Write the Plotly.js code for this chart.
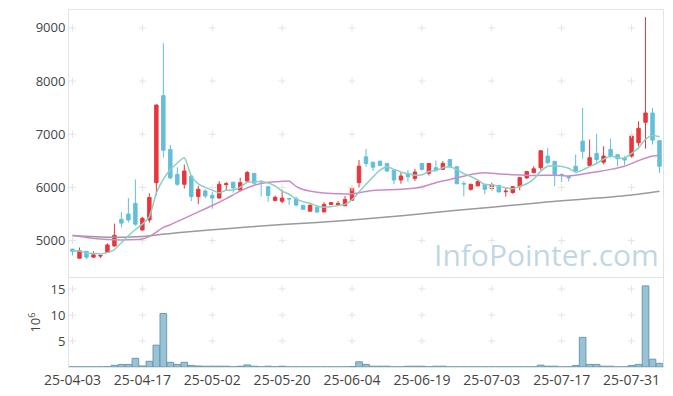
<!DOCTYPE html>
<html>
<head>
<meta charset="utf-8">
<script src="https://cdn.plot.ly/plotly-3.0.1.min.js"></script>
<style>html,body{margin:0;padding:0;background:#fff;}#chart{width:673px;height:396px;}</style>
</head>
<body>
<div id="chart"></div>
<script>
// ---- data ----
const dates = [
 '25-04-03','25-04-04','25-04-07','25-04-08','25-04-09','25-04-10','25-04-11','25-04-14','25-04-15','25-04-16',
 '25-04-17','25-04-18','25-04-21','25-04-22','25-04-23','25-04-24','25-04-25','25-04-28','25-04-29','25-04-30',
 '25-05-02','25-05-07','25-05-08','25-05-09','25-05-12','25-05-13','25-05-14','25-05-15','25-05-16','25-05-19',
 '25-05-20','25-05-21','25-05-22','25-05-23','25-05-26','25-05-27','25-05-28','25-05-29','25-05-30','25-06-02',
 '25-06-04','25-06-05','25-06-09','25-06-10','25-06-11','25-06-12','25-06-13','25-06-16','25-06-17','25-06-18',
 '25-06-19','25-06-20','25-06-23','25-06-24','25-06-25','25-06-26','25-06-27','25-06-30','25-07-01','25-07-02',
 '25-07-03','25-07-04','25-07-07','25-07-08','25-07-09','25-07-10','25-07-11','25-07-14','25-07-15','25-07-16',
 '25-07-17','25-07-18','25-07-21','25-07-22','25-07-23','25-07-24','25-07-25','25-07-28','25-07-29','25-07-30',
 '25-07-31','25-08-01','25-08-04','25-08-05','25-08-06'];

const open = [4840,4670,4800,4690,4710,4780,4900,5400,5500,5700,
 5200,5390,6090,7725,6715,6245,6060,6215,5830,5935,
 5850,5800,6055,6100,5950,6120,6265,6120,6015,5755,
 5740,5795,5790,5665,5555,5630,5540,5680,5670,5655,
 5760,6090,6575,6475,6495,6450,6325,6140,6260,6170,
 6450,6265,6370,6340,6525,6390,6075,5965,6030,6060,
 5980,6040,5920,5905,6015,6180,6280,6370,6590,6490,
 6245,6205,6400,6870,6415,6640,6475,6715,6615,6550,
 6590,6840,7225,7400,6880];
const high = [4850,4870,4800,4800,4740,4950,5320,5540,5800,6150,
 5450,5890,7560,8710,6800,6380,6430,6220,6030,5965,
 5920,6120,6100,6100,6185,6310,6270,6125,6020,5850,
 5965,5800,5830,5670,5680,5640,5725,5720,5745,5840,
 5980,6515,6725,6480,6500,6460,6330,6280,6325,6350,
 6460,6455,6510,6495,6530,6395,6120,6065,6150,6065,
 6090,6045,5995,6020,6200,6310,6400,6700,6745,6500,
 6265,6215,6620,7495,6900,7010,6775,6915,6620,6590,
 6980,7245,9200,7495,6885];
const low = [4720,4660,4650,4680,4670,4770,4890,5250,5340,5280,
 5190,5340,5850,6560,6150,6030,5980,5745,5685,5800,
 5600,5800,5935,5900,5940,6090,6050,5830,5730,5740,
 5700,5670,5640,5580,5550,5515,5535,5675,5650,5650,
 5750,6000,6390,6310,6400,6290,6060,6070,6110,6120,
 6320,6225,6300,6330,6360,6060,5830,5940,6020,5870,
 5935,5910,5830,5880,5945,6160,6265,6330,6440,6025,
 6100,6115,6290,6540,6400,6435,6435,6560,6400,6420,
 6560,6775,6730,6805,6275];
const close = [4800,4810,4690,4735,4720,4920,5100,5330,5390,5310,
 5420,5810,7550,6700,6180,6060,6310,5830,5965,5840,
 5800,6060,6070,5990,6090,6280,6080,6110,5850,5815,
 5800,5785,5670,5590,5665,5540,5680,5715,5700,5775,
 5975,6400,6450,6380,6415,6310,6140,6215,6200,6290,
 6340,6450,6320,6450,6390,6070,6065,6060,6110,5965,
 6050,5915,5930,6015,6185,6300,6350,6690,6465,6245,
 6225,6180,6310,6680,6560,6525,6590,6590,6540,6515,
 6965,7110,7400,6890,6400];

// volume in millions of shares
const volumeM = [0.03,0.03,0.03,0.03,0.03,0.05,0.32,0.5,0.5,1.67,
 0.2,1.1,4.2,10.3,0.9,0.5,0.9,0.3,0.2,0.15,
 0.15,0.15,0.15,0.04,0.15,0.4,0.15,0.04,0.15,0.04,
 0.15,0.03,0.03,0.03,0.03,0.03,0.03,0.03,0.03,0.03,
 0.1,1.0,0.5,0.15,0.15,0.15,0.04,0.04,0.15,0.15,
 0.15,0.04,0.15,0.15,0.03,0.03,0.03,0.03,0.03,0.03,
 0.03,0.03,0.03,0.03,0.03,0.03,0.03,0.35,0.15,0.15,
 0.03,0.03,0.3,5.7,0.5,0.5,0.15,0.15,0.03,0.03,
 0.3,0.5,15.6,1.5,0.7];

// 20-day moving average
const ma20Dates = ['25-04-03','25-04-07','25-04-09','25-04-11','25-04-15','25-04-17','25-04-18','25-04-21','25-04-22','25-04-23',
 '25-04-25','25-04-29','25-05-02','25-05-08','25-05-12','25-05-14','25-05-16','25-05-20','25-05-21','25-05-22',
 '25-05-23','25-05-27','25-05-29','25-06-04','25-06-09','25-06-11','25-06-16','25-06-19','25-06-23','25-06-25',
 '25-06-30','25-07-02','25-07-04','25-07-08','25-07-11','25-07-16','25-07-18','25-07-22','25-07-24','25-07-28',
 '25-07-30','25-08-01','25-08-05','25-08-06'];
const ma20 = [5100,5060,5030,5015,5015,5030,5080,5160,5250,5300,
 5420,5540,5660,5790,5930,6040,6100,6115,6120,6020,
 5960,5910,5885,5880,5925,5950,5965,6010,6090,6150,
 6245,6275,6255,6240,6225,6230,6215,6250,6295,6340,
 6400,6505,6590,6600];

// long moving average
const maLongDates = ['25-04-03','25-04-10','25-04-17','25-04-24','25-05-02','25-05-13','25-05-20','25-05-27','25-06-04','25-06-12',
 '25-06-19','25-06-26','25-07-03','25-07-10','25-07-17','25-07-24','25-07-31','25-08-06'];
const maLong = [5090,5065,5078,5150,5205,5255,5305,5340,5390,5445,
 5505,5570,5630,5690,5750,5800,5860,5930];

const priceTicks = [5000,6000,7000,8000,9000];
const volumeTicks = [5,10,15];
const dateTicks = ['25-04-03','25-04-17','25-05-02','25-05-20','25-06-04','25-06-19','25-07-03','25-07-17','25-07-31'];

// ---- derived ----
function movingAverage(arr, n) {
  return arr.map((v, i) => {
    const s = arr.slice(Math.max(0, i - n + 1), i + 1);
    return s.reduce((a, b) => a + b, 0) / s.length;
  });
}
const ma5 = movingAverage(close, 5);

function crossGrid(xs, ys) {
  const gx = [], gy = [];
  xs.forEach(x => ys.forEach(y => { gx.push(x); gy.push(y); }));
  return {gx, gy};
}
const gPrice = crossGrid(dateTicks, priceTicks);
const gVol = crossGrid(dateTicks, volumeTicks);

const UP = '#e8363c', DOWN = '#62bfd8';
const GRIDMARK = {symbol:'cross-thin', size:5, line:{color:'#e4e4e4', width:1}};

const traces = [
  {type:'scatter', mode:'markers', x:gPrice.gx, y:gPrice.gy, xaxis:'x', yaxis:'y',
   marker:GRIDMARK, hoverinfo:'skip', showlegend:false},
  {type:'candlestick', x:dates, open:open, high:high, low:low, close:close,
   xaxis:'x', yaxis:'y',
   increasing:{line:{color:UP, width:1}, fillcolor:UP},
   decreasing:{line:{color:DOWN, width:1}, fillcolor:DOWN},
   whiskerwidth:0, showlegend:false, hoverinfo:'skip'},
  {type:'scatter', mode:'lines', x:maLongDates, y:maLong, xaxis:'x', yaxis:'y',
   line:{color:'#9a9a9a', width:1.5, shape:'spline', smoothing:0.6}, hoverinfo:'skip', showlegend:false},
  {type:'scatter', mode:'lines', x:ma20Dates, y:ma20, xaxis:'x', yaxis:'y',
   line:{color:'#c98bc6', width:1.5, shape:'spline', smoothing:0.6}, hoverinfo:'skip', showlegend:false},
  {type:'scatter', mode:'lines', x:dates, y:ma5, xaxis:'x', yaxis:'y',
   line:{color:'#8ccfc4', width:1.5, shape:'spline', smoothing:0.6}, hoverinfo:'skip', showlegend:false},
  {type:'scatter', mode:'markers', x:gVol.gx, y:gVol.gy, xaxis:'x2', yaxis:'y2',
   marker:GRIDMARK, hoverinfo:'skip', showlegend:false},
  {type:'bar', x:dates, y:volumeM, xaxis:'x2', yaxis:'y2',
   marker:{color:'rgba(135,183,205,0.85)', line:{color:'rgba(104,154,180,1)', width:1}},
   hoverinfo:'skip', showlegend:false}
];

const axisLine = '#e3e3e3';
const layout = {
  width:673, height:396,
  margin:{l:69, r:10, t:10, b:29},
  paper_bgcolor:'#fff', plot_bgcolor:'#fff',
  font:{family:'Open Sans, sans-serif', size:13, color:'#444'},
  bargap:0.05,
  showlegend:false,
  xaxis:{type:'category', categoryorder:'array', categoryarray:dates, anchor:'y',
    range:[-0.5, dates.length - 0.5], showticklabels:false, showgrid:false, zeroline:false,
    showline:true, mirror:true, linecolor:axisLine, linewidth:1, ticks:'',
    tickmode:'array', tickvals:dateTicks, rangeslider:{visible:false}, fixedrange:true},
  yaxis:{domain:[0.252,1], range:[4316,9336], tickmode:'array', tickvals:priceTicks,
    showgrid:false, zeroline:false, showline:true, mirror:true, linecolor:axisLine, linewidth:1,
    ticks:'', ticklen:0, tickfont:{size:13, color:'#444'}},
  xaxis2:{type:'category', categoryorder:'array', categoryarray:dates, anchor:'y2', matches:'x',
    range:[-0.5, dates.length - 0.5], tickmode:'array', tickvals:dateTicks, ticktext:dateTicks,
    showgrid:false, zeroline:false, showline:true, mirror:true, linecolor:axisLine, linewidth:1,
    ticks:'', tickfont:{size:14, color:'#444'}},
  yaxis2:{domain:[0,0.249], range:[0,17.1], tickmode:'array', tickvals:volumeTicks,
    showgrid:false, zeroline:false, showline:true, mirror:true, linecolor:axisLine, linewidth:1,
    ticks:'', tickfont:{size:13, color:'#444'},
    title:{text:'10<sup>6</sup>', font:{size:13, color:'#444'}, standoff:6}},
  annotations:[
    {xref:'paper', yref:'paper', x:0.997, y:0.252, xanchor:'right', yanchor:'bottom',
     text:'InfoPointer.com', showarrow:false,
     font:{family:'Open Sans, sans-serif', size:30, color:'rgba(172,202,218,0.75)'}}
  ]
};

Plotly.newPlot('chart', traces, layout, {staticPlot:true, displayModeBar:false});
</script>
</body>
</html>
